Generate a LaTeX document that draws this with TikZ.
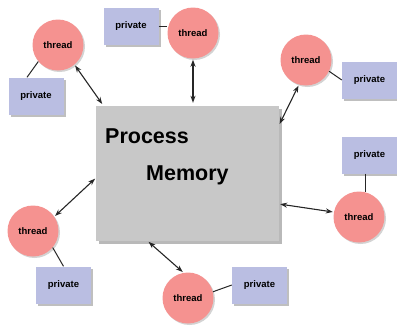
\documentclass[tikz,border=0pt]{standalone}
\usepackage{fontspec}
\setmainfont{Liberation Sans}
\usetikzlibrary{arrows.meta,shadows,calc}
\definecolor{thr}{RGB}{245,146,144}
\definecolor{prv}{RGB}{186,190,226}
\definecolor{mem}{RGB}{200,200,200}
\tikzset{
  thr/.style={circle,fill=thr,minimum size=51pt,inner sep=0pt,font=\bfseries\fontsize{9.5}{10}\selectfont,
    drop shadow={shadow xshift=1.5pt,shadow yshift=-1.5pt,opacity=0.35}},
  prv/.style={rectangle,fill=prv,minimum width=55pt,minimum height=37pt,inner sep=0pt,font=\bfseries\fontsize{9.5}{10}\selectfont,
    drop shadow={shadow xshift=2pt,shadow yshift=-2pt,opacity=0.5}},
  memtxt/.style={anchor=base west,inner sep=0pt,font=\bfseries\fontsize{21.5}{24}\selectfont},
  link/.style={line width=1pt,black!85},
  arr/.style={line width=1.1pt,black!85,{Stealth[length=7pt,width=5pt]}-{Stealth[length=7pt,width=5pt]},shorten <=1pt,shorten >=1pt}
}
\begin{document}
\begin{tikzpicture}[x=1pt,y=-1pt]
\useasboundingbox (0,0) rectangle (397,325);
% memory box
\node[rectangle,fill=mem,minimum width=183pt,minimum height=135pt,inner sep=0pt,
  drop shadow={shadow xshift=2.5pt,shadow yshift=-2.5pt,opacity=0.55}] (pm) at (187.5,173.5) {};
\node[memtxt] (ptxt) at (105,143) {Process};
\node[memtxt] (mtxt) at (146,180) {Memory};
% threads
\node[thr] (t1) at (58,45) {thread};
\node[thr] (t2) at (193,33) {thread};
\node[thr] (t3) at (306,60) {thread};
\node[thr] (t4) at (359,217) {thread};
\node[thr] (t5) at (188,298) {thread};
\node[thr] (t6) at (33,231) {thread};
% privates
\node[prv] (p1) at (36,96) {private};
\node[prv] (p2) at (131,26) {private};
\node[prv] (p3) at (369.5,80) {private};
\node[prv] (p4) at (369.5,155) {private};
\node[prv] (p5) at (259.5,285) {private};
\node[prv] (p6) at (63.5,285) {private};
% thread-private links
\draw[link] (t1.220) -- ([xshift=-9pt]p1.north);
\draw[link] (p2.east) -- (p2 -| t2.west);
\draw[link] (t3.-26) -- (p3.west);
\draw[link] ([xshift=-4pt]p4.south) -- ([xshift=-4pt,yshift=-18pt]p4.south);
\draw[link] (t5.14) -- (p5.west);
\draw[link] (t6.-40) -- (p6.north);
% arrows
\draw[arr] (t1.-50) -- ([xshift=7pt,yshift=1pt]pm.north west);
\draw[arr] (t2.south) -- ([yshift=2pt]t2.south |- pm.north);
\draw[arr] (t3.-106) -- ([yshift=-19pt]pm.north east);
\draw[arr] (t4.169) -- ([yshift=-30.5pt]pm.east);
\draw[arr] (t5.100) -- ([xshift=52pt]pm.south west);
\draw[arr] (t6.34) -- ([yshift=-4.5pt]pm.west);
\end{tikzpicture}
\end{document}
